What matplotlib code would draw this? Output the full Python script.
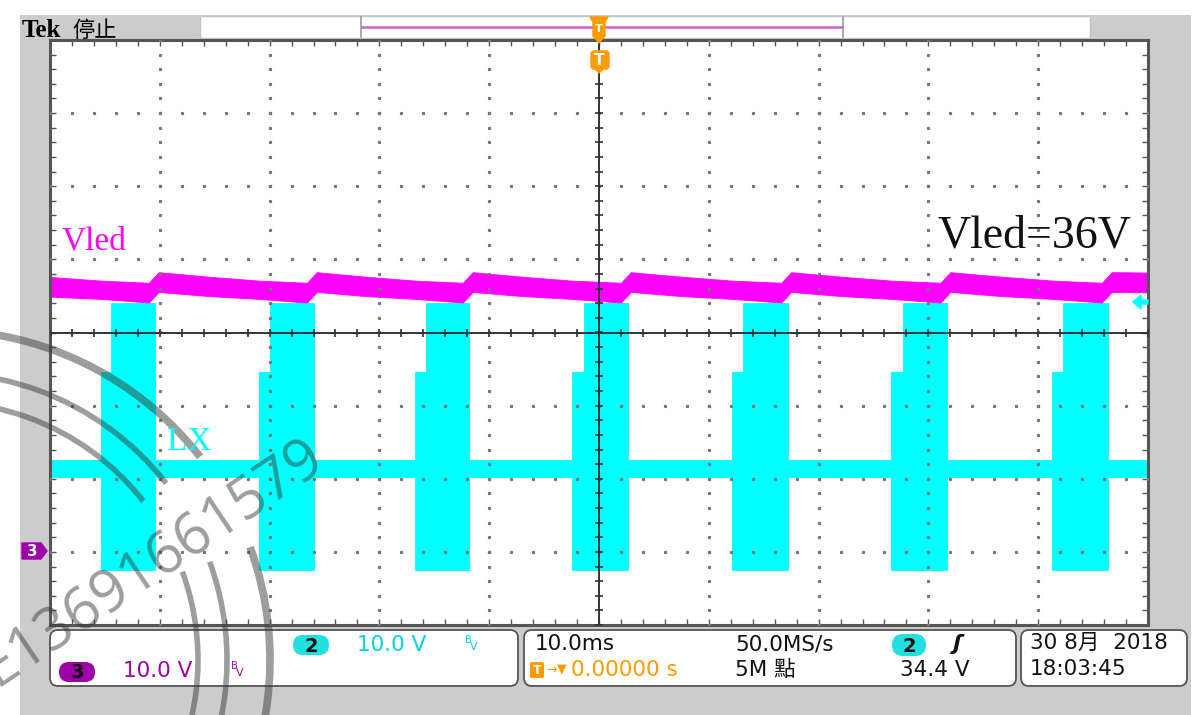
import matplotlib
matplotlib.use('Agg')
import matplotlib.pyplot as plt
import matplotlib.patches as mpatches
import numpy as np

W, H = 1196, 715

# ---- waveform data: time in ms, level in screen divisions ----
pulse_on = [-45.4, -31.0, -16.8, -2.5, 12.1, 26.6, 41.3]
pulse_step = [-44.4, -30.0, -15.8, -1.4, 13.1, 27.7, 42.3]
pulse_off = [-40.4, -26.0, -11.8, 2.6, 17.2, 31.7, 46.4]

# LX (ch2) band levels
lx_idle = (-1.75, -1.98)
lx_step_top = -0.54
lx_top = 0.40
lx_bottom = -3.25

# Vled (ch3) band edges (upper, lower) at key points of a cycle
vled_start = (0.76, 0.49)
vled_after = (0.825, 0.555)
vled_mid = (0.765, 0.50)
vled_before_on = (0.71, 0.46)
vled_before_off = (0.68, 0.41)
vled_end = (0.82, 0.55)

# status bar texts
ch2_scale = "10.0 V"
ch3_scale = "10.0 V"
time_div = "10.0ms"
sample_rate = "50.0MS/s"
record_len = "5M 點"
trig_pos = "0.00000 s"
trig_level = "34.4 V"
date_str = "30 8月  2018"
time_str = "18:03:45"

CYAN = '#00ffff'
MAG = '#ff00ff'
CYAN_TXT = '#00d4e0'
PURPLE = '#a000a8'
ORANGE = '#ff9a00'
SANS = ['DejaVu Sans', 'Noto Sans CJK TC']
FS = 15.5

# build the band envelopes
lx_t, lx_hi, lx_lo = [-50], [lx_idle[0]], [lx_idle[1]]
for on, st, off in zip(pulse_on, pulse_step, pulse_off):
    lx_t += [on, on, st, st, off, off]
    lx_hi += [lx_idle[0], lx_step_top, lx_step_top, lx_top, lx_top, lx_idle[0]]
    lx_lo += [lx_idle[1], lx_bottom, lx_bottom, lx_bottom, lx_bottom, lx_idle[1]]
lx_t.append(50); lx_hi.append(lx_idle[0]); lx_lo.append(lx_idle[1])

v_t, v_hi, v_lo = [-50], [vled_start[0]], [vled_start[1]]
for i, (on, off) in enumerate(zip(pulse_on, pulse_off)):
    v_t += [on, off - 0.6, off + 0.3]
    v_hi += [vled_before_on[0], vled_before_off[0], vled_after[0]]
    v_lo += [vled_before_on[1], vled_before_off[1], vled_after[1]]
    if i + 1 < len(pulse_on):
        v_t.append((off + pulse_on[i + 1]) / 2)
        v_hi.append(vled_mid[0]); v_lo.append(vled_mid[1])
v_t.append(50); v_hi.append(vled_end[0]); v_lo.append(vled_end[1])

fig = plt.figure(figsize=(W / 100, H / 100), dpi=100)

# ---- background / frame in pixel coordinates ----
ui = fig.add_axes([0, 0, 1, 1])
ui.set_xlim(0, W); ui.set_ylim(H, 0); ui.axis('off')
ui.set_zorder(0)
ui.add_patch(mpatches.Rectangle((20, 15), 1171, 700, color='#cccccc', lw=0))
ui.add_patch(mpatches.Rectangle((200, 16), 890, 22, facecolor='white',
                                edgecolor='#c4c4c4', lw=1))
ui.plot([361, 361], [17, 37], color='#999999', lw=1.2)
ui.plot([843, 843], [17, 37], color='#999999', lw=1.2)
ui.plot([362, 842], [27, 27], color='#d060d0', lw=1.8)
ui.text(22, 37, 'Tek', fontfamily='Liberation Serif', fontweight='bold',
        fontsize=18, va='baseline')
ui.text(72, 37, '停止', fontfamily='Noto Sans CJK SC', fontsize=16, va='baseline')

# channel 3 ground marker
ui.add_patch(mpatches.Polygon([(22, 543), (41, 543), (47, 551), (41, 559), (22, 559)],
                              color=PURPLE))
ui.text(32, 551.5, '3', color='white', fontsize=11, fontweight='bold',
        ha='center', va='center', family=SANS)

# status boxes
for x0, x1 in [(50, 518), (524, 1016), (1021, 1187)]:
    ui.add_patch(mpatches.FancyBboxPatch((x0, 630), x1 - x0, 56,
                                         boxstyle='round,pad=0,rounding_size=8',
                                         facecolor='white', edgecolor='#555555', lw=1.3))

def pill(x, y, w, h, color, label):
    ui.add_patch(mpatches.FancyBboxPatch((x - w / 2, y - h / 2), w, h,
                                         boxstyle='round,pad=0,rounding_size=%f' % (h / 2),
                                         facecolor=color, lw=0))
    ui.text(x, y + 1, label, fontsize=14, fontweight='bold', ha='center',
            va='center', family=SANS, color='#111111')

pill(311, 645, 36, 20, '#22e0e0', '2')
ui.text(357, 645, ch2_scale, color=CYAN_TXT, fontsize=FS, va='center', family=SANS)
ui.text(465, 640, 'B', color=CYAN_TXT, fontsize=7, va='center', family=SANS)
ui.text(470, 647, 'V', color=CYAN_TXT, fontsize=8, va='center', family=SANS)

pill(77, 672, 36, 20, PURPLE, '3')
ui.text(123, 671, ch3_scale, color=PURPLE, fontsize=FS, va='center', family=SANS)
ui.text(231, 666, 'B', color=PURPLE, fontsize=7, va='center', family=SANS)
ui.text(236, 673, 'V', color=PURPLE, fontsize=8, va='center', family=SANS)

ui.text(535, 644, time_div, fontsize=FS, va='center', family=SANS, color='#111111')
ui.text(735, 644, sample_rate, fontsize=FS, va='center', family=SANS, color='#111111')
pill(909, 645, 34, 22, '#22e0e0', '2')
ui.text(957, 644, 'ʃ', fontsize=16, fontweight='bold', style='italic',
        ha='center', va='center', family=SANS, color='#111111')

ui.add_patch(mpatches.FancyBboxPatch((530, 662), 14, 16,
                                     boxstyle='round,pad=0,rounding_size=2',
                                     facecolor=ORANGE, lw=0))
ui.text(537, 670.5, 'T', color='white', fontsize=9, fontweight='bold',
        ha='center', va='center', family=SANS)
ui.text(546, 670, '→', color=ORANGE, fontsize=9, va='center', family=SANS)
ui.text(557, 669, '▼', color=ORANGE, fontsize=9, va='center', family=SANS)
ui.text(571, 670, trig_pos, color=ORANGE, fontsize=FS, va='center', family=SANS)
ui.text(735, 670, record_len, fontsize=FS, va='center', family=SANS, color='#111111')
ui.text(900, 670, trig_level, fontsize=FS, va='center', family=SANS, color='#111111')

ui.text(1030, 643, date_str, fontsize=FS, va='center', family=SANS, color='#111111')
ui.text(1030, 669, time_str, fontsize=FS, va='center', family=SANS, color='#111111')

# ---- scope graticule + traces ----
ax = fig.add_axes([50 / W, (H - 625) / H, 1098 / W, 585 / H])
ax.set_zorder(1)
ax.set_xlim(-50, 50); ax.set_ylim(-4, 4)
ax.set_facecolor('white')

ax.fill_between(lx_t, lx_lo, lx_hi, color=CYAN, lw=0.6, zorder=2)
ax.fill_between(v_t, v_lo, v_hi, color=MAG, lw=0.6, zorder=2.1)

xminor = np.arange(-50, 50.1, 2)
yminor = np.arange(-4, 4.01, 0.2)
for xv in [-40, -30, -20, -10, 10, 20, 30, 40]:
    ax.plot([xv] * len(yminor), yminor, ls='none', marker='s', ms=1.3,
            color='#777777', zorder=3)
for yv in [-3, -2, -1, 1, 2, 3]:
    ax.plot(xminor, [yv] * len(xminor), ls='none', marker='s', ms=1.3,
            color='#777777', zorder=3)
ax.axhline(0, color='#333333', lw=1.4, zorder=3)
ax.axvline(0, color='#333333', lw=1.4, zorder=3)
ax.plot(xminor, [0] * len(xminor), ls='none', marker='|', ms=6, mew=1.2,
        color='#333333', zorder=3)
ax.plot([0] * len(yminor), yminor, ls='none', marker='_', ms=6, mew=1.2,
        color='#333333', zorder=3)

ax.set_xticks(np.arange(-50, 51, 10))
ax.set_xticks(xminor, minor=True)
ax.set_yticks(np.arange(-4, 5, 1))
ax.set_yticks(yminor, minor=True)
ax.tick_params(which='both', direction='in', top=True, right=True,
               labelbottom=False, labelleft=False, color='#555555',
               length=4, width=1)
for s in ax.spines.values():
    s.set_color('#555555')
    s.set_linewidth(2.2)

# ---- overlays in pixel coordinates ----
top = fig.add_axes([0, 0, 1, 1])
top.set_zorder(2)
top.set_xlim(0, W); top.set_ylim(H, 0); top.axis('off')

top.text(62, 250, 'Vled', color=MAG, fontfamily='Liberation Serif', fontsize=24,
         va='baseline')
top.text(167, 450, 'LX', color=CYAN, fontfamily='Liberation Serif', fontsize=24,
         va='baseline')
top.text(937, 248, 'Vled=36V', color='#111111', fontfamily='Liberation Serif',
         fontsize=33, va='baseline')

# trigger position marker
top.add_patch(mpatches.Polygon([(590, 17), (608, 17), (605, 22), (605, 36), (599, 43),
                                (593, 36), (593, 22)], color=ORANGE))
top.text(599, 29, 'T', color='white', fontsize=8, fontweight='bold',
         ha='center', va='center', family=SANS)
top.add_patch(mpatches.FancyBboxPatch((591, 51), 18, 18,
                                      boxstyle='round,pad=0,rounding_size=3',
                                      color=ORANGE))
top.add_patch(mpatches.Polygon([(594, 68), (604, 68), (599, 73)], color=ORANGE))
top.text(599, 60.5, 'T', color='white', fontsize=11, fontweight='bold',
         ha='center', va='center', family=SANS)

# trigger level arrow
top.add_patch(mpatches.Polygon([(1133, 302), (1141, 295), (1141, 300), (1148, 300),
                                (1148, 304), (1141, 304), (1141, 309)], color=CYAN))

# watermark
wm_col = '#3c3c3c'
for r, lw in [(330, 5.5), (287, 4.0), (258, 4.0)]:
    top.add_patch(mpatches.Arc((-60, 660), 2 * r, 2 * r, theta1=-102, theta2=-38,
                               color=wm_col, alpha=0.5, lw=lw))
    top.add_patch(mpatches.Arc((-60, 660), 2 * r, 2 * r, theta1=-20, theta2=35,
                               color=wm_col, alpha=0.5, lw=lw))
top.text(-4, 688, 'E13691661579', color=wm_col, alpha=0.5, fontsize=42,
         fontfamily='Open Sans', rotation=34, rotation_mode='anchor',
         ha='left', va='baseline')

fig.savefig('out.png', dpi=100)
